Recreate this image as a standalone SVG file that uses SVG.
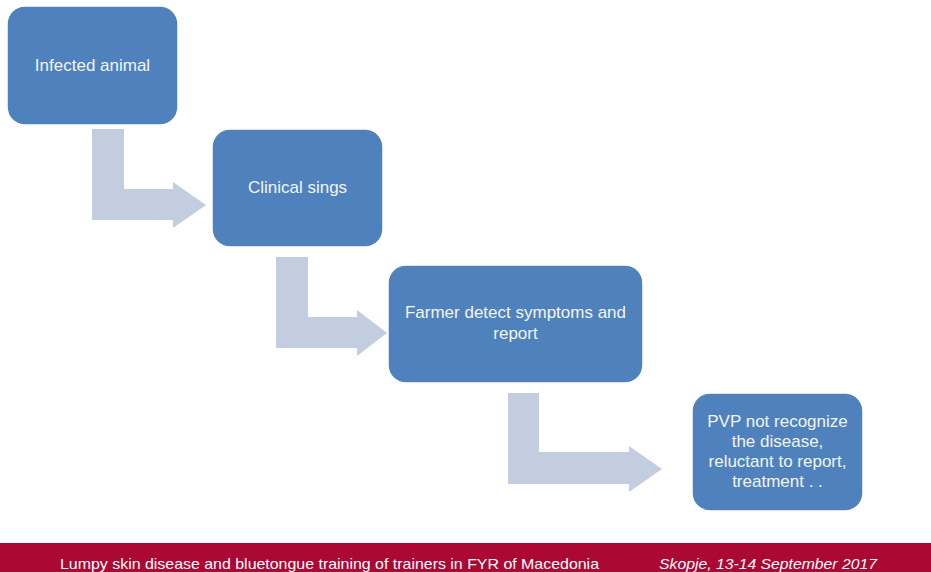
<svg xmlns="http://www.w3.org/2000/svg" width="931" height="572" viewBox="0 0 931 572">
<style>
.box{fill:#4F81BD;stroke:#FFFFFF;stroke-width:1.5}
.arr{fill:#C3CDE0}
.lbl{font-family:"Liberation Sans",Arial,sans-serif;font-size:17px;fill:#F2F5FA;text-anchor:middle}
.foot{font-family:"Liberation Sans",Arial,sans-serif;font-size:15px;fill:#FFFFFF}
</style>
<rect width="931" height="572" fill="#FFFFFF"/>
<g id="connectors">
<polygon class="arr" points="92,129 124,129 124,189 173,189 173,182 206,205 173,228 173,220 92,220"/>
<polygon class="arr" points="276,257 308,257 308,317 357,317 357,310 387,333 357,356 357,348 276,348"/>
<polygon class="arr" points="508,393 539,393 539,452 629,452 629,446 662,469 629,492 629,484 508,484"/>
</g>
<g id="node1">
<rect class="box" x="7" y="6" width="171" height="119" rx="18"/>
<text class="lbl" x="92.5" y="71">Infected animal</text>
</g>
<g id="node2">
<rect class="box" x="212" y="129" width="171" height="118" rx="18"/>
<text class="lbl" x="297.5" y="193">Clinical sings</text>
</g>
<g id="node3">
<rect class="box" x="388" y="265" width="255" height="118" rx="18"/>
<text class="lbl" x="515.5" y="318">Farmer detect symptoms and</text>
<text class="lbl" x="515.5" y="339">report</text>
</g>
<g id="node4">
<rect class="box" x="692" y="393" width="171" height="118" rx="18"/>
<text class="lbl" x="777.5" y="427">PVP not recognize</text>
<text class="lbl" x="777.5" y="447">the disease,</text>
<text class="lbl" x="777.5" y="467">reluctant to report,</text>
<text class="lbl" x="777.5" y="487">treatment . .</text>
</g>
<g id="footer">
<rect x="0" y="543" width="931" height="29" fill="#AC0834"/>
<text class="foot" x="60" y="569" textLength="539" lengthAdjust="spacingAndGlyphs">Lumpy skin disease and bluetongue training of trainers in FYR of Macedonia</text>
<text class="foot" x="659" y="569" font-style="italic" textLength="218" lengthAdjust="spacingAndGlyphs">Skopje, 13-14 September 2017</text>
</g>
</svg>
